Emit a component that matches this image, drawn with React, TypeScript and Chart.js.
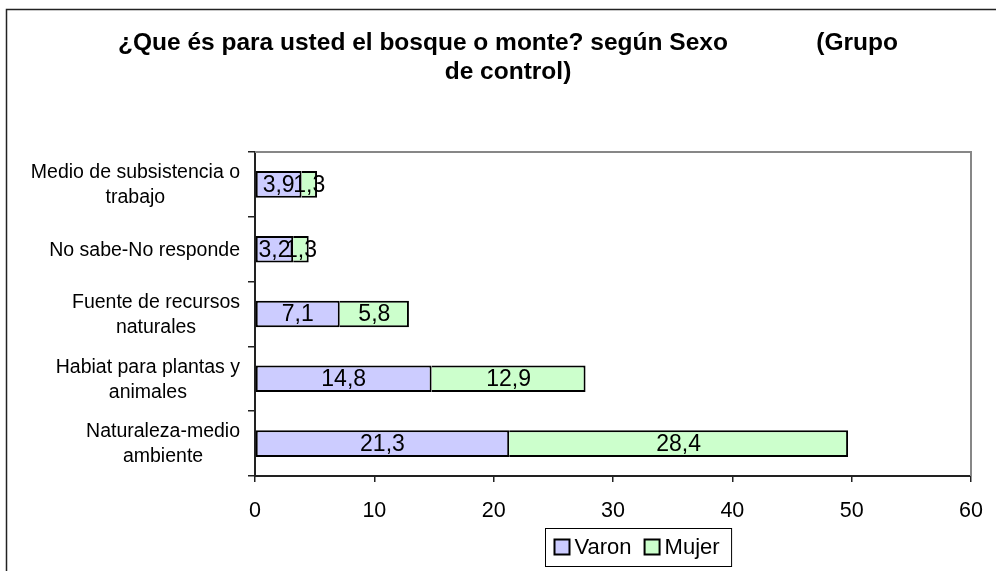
import React, { useEffect, useRef } from 'react';
import { Chart, registerables } from 'chart.js';

Chart.register(...registerables);

const FONT = "'Liberation Sans', Arial, Helvetica, sans-serif";

const categories: string[][] = [
  ['Medio de subsistencia o', 'trabajo'],
  ['No sabe-No responde'],
  ['Fuente de recursos', 'naturales'],
  ['Habiat para plantas y', 'animales'],
  ['Naturaleza-medio', 'ambiente'],
];
const varonValues = [3.9, 3.2, 7.1, 14.8, 21.3];
const mujerValues = [1.3, 1.3, 5.8, 12.9, 28.4];
const seriesNames = ['Varon', 'Mujer'];
const seriesColors = ['#CCCCFF', '#CCFFCC'];
const titleLines = [
  '¿Que és para usted el bosque o monte? según Sexo             (Grupo',
  'de control)',
];
const xMin = 0;
const xMax = 60;
const xStep = 10;

const fmt = (v: number) => String(v).replace('.', ',');

const framePlugin = {
  id: 'frame',
  beforeDraw(chart: any) {
    const ctx = chart.ctx;
    ctx.save();
    ctx.fillStyle = '#ffffff';
    ctx.fillRect(0, 0, chart.width, chart.height);
    ctx.strokeStyle = '#222222';
    ctx.lineWidth = 1.5;
    ctx.beginPath();
    ctx.moveTo(6.5, chart.height);
    ctx.lineTo(6.5, 9.5);
    ctx.lineTo(chart.width, 9.5);
    ctx.stroke();
    ctx.restore();
  },
  beforeDatasetsDraw(chart: any) {
    const { ctx, chartArea } = chart;
    ctx.save();
    ctx.strokeStyle = '#878787';
    ctx.lineWidth = 2;
    ctx.beginPath();
    ctx.moveTo(chartArea.left, chartArea.top);
    ctx.lineTo(chartArea.right, chartArea.top);
    ctx.lineTo(chartArea.right, chartArea.bottom);
    ctx.stroke();
    ctx.restore();
  },
};

const labelsPlugin = {
  id: 'customLabels',
  afterDatasetsDraw(chart: any) {
    const ctx = chart.ctx;
    ctx.save();
    // value labels
    ctx.font = `23px ${FONT}`;
    ctx.fillStyle = '#000';
    ctx.textAlign = 'center';
    ctx.textBaseline = 'middle';
    chart.data.datasets.forEach((ds: any, di: number) => {
      const meta = chart.getDatasetMeta(di);
      meta.data.forEach((el: any, i: number) => {
        const { x, y, base } = el.getProps(['x', 'y', 'base'], true);
        ctx.fillText(fmt(ds.data[i]), (x + base) / 2, y + 1);
      });
    });
    // category labels (each wrapped label centred on its own widest line)
    const yScale = chart.scales.y;
    ctx.font = `19.5px ${FONT}`;
    const lh = 25;
    (chart.data.labels as string[][]).forEach((lines, i) => {
      const cy = yScale.getPixelForValue(i);
      const maxW = Math.max(...lines.map((l) => ctx.measureText(l).width));
      const cx = chart.chartArea.left - 15 - maxW / 2;
      lines.forEach((l, j) => {
        ctx.fillText(l, cx, cy + 1 + (j - (lines.length - 1) / 2) * lh);
      });
    });
    ctx.restore();
  },
  afterDraw(chart: any) {
    // legend box
    const ctx = chart.ctx;
    ctx.save();
    ctx.font = `22px ${FONT}`;
    const sw = 15;
    const gap = 5;
    const itemGap = 13;
    const padL = 9;
    const padR = 12;
    const items = chart.data.datasets.map((ds: any) => ({
      label: ds.label,
      color: ds.backgroundColor,
      w: ctx.measureText(ds.label).width,
    }));
    let total = padL + padR;
    items.forEach((it: any, i: number) => {
      total += sw + gap + it.w + (i > 0 ? itemGap : 0);
    });
    const cx = 638;
    const cy = 547;
    const h = 38;
    const left = Math.round(cx - total / 2) + 0.5;
    const top = Math.round(cy - h / 2) + 0.5;
    ctx.fillStyle = '#fff';
    ctx.fillRect(left, top, total, h);
    ctx.strokeStyle = '#000';
    ctx.lineWidth = 1;
    ctx.strokeRect(left, top, total, h);
    let x = left + padL;
    ctx.textBaseline = 'middle';
    ctx.textAlign = 'left';
    items.forEach((it: any, i: number) => {
      if (i > 0) x += itemGap;
      ctx.fillStyle = it.color;
      ctx.fillRect(x, cy - sw / 2, sw, sw);
      ctx.strokeStyle = '#000';
      ctx.lineWidth = 2;
      ctx.strokeRect(x, cy - sw / 2, sw, sw);
      x += sw + gap;
      ctx.fillStyle = '#000';
      ctx.fillText(it.label, x, cy + 1);
      x += it.w;
    });
    ctx.restore();
  },
};

export default function App() {
  const ref = useRef<HTMLCanvasElement | null>(null);
  useEffect(() => {
    if (!ref.current) return;
    const chart = new Chart(ref.current, {
      type: 'bar',
      data: {
        labels: categories as any,
        datasets: [
          {
            label: seriesNames[0],
            data: varonValues,
            backgroundColor: seriesColors[0],
            borderColor: '#000',
            borderWidth: 2,
            borderSkipped: false,
            barPercentage: 0.41,
            categoryPercentage: 1,
          },
          {
            label: seriesNames[1],
            data: mujerValues,
            backgroundColor: seriesColors[1],
            borderColor: '#000',
            borderWidth: 2,
            borderSkipped: 'start',
            barPercentage: 0.41,
            categoryPercentage: 1,
          },
        ],
      },
      options: {
        indexAxis: 'y',
        animation: false,
        responsive: false,
        devicePixelRatio: 1,
        layout: { padding: { top: 10, left: 45, right: 25, bottom: 0 } },
        plugins: {
          legend: { display: false },
          tooltip: { enabled: false },
          title: {
            display: true,
            text: titleLines,
            color: '#000',
            font: { family: FONT, size: 24.5, weight: 'bold', lineHeight: 28.5 / 24.5 },
            padding: { top: 19, bottom: 66 },
          },
        },
        scales: {
          x: {
            type: 'linear',
            stacked: true,
            min: xMin,
            max: xMax,
            ticks: {
              stepSize: xStep,
              color: '#000',
              font: { family: FONT, size: 21.5 },
              padding: 16,
              maxRotation: 0,
            },
            grid: {
              drawOnChartArea: false,
              drawTicks: true,
              tickLength: 6,
              color: '#222',
              lineWidth: 1.5,
            },
            border: { color: '#222', width: 2 },
            afterFit(scale: any) {
              scale.height = 95;
              scale.paddingLeft = 0;
              scale.paddingRight = 0;
            },
          },
          y: {
            type: 'category',
            stacked: true,
            offset: true,
            ticks: { display: false },
            grid: {
              offset: true,
              drawOnChartArea: false,
              drawTicks: true,
              tickLength: 7,
              color: '#222',
              lineWidth: 1.5,
            },
            border: { color: '#222', width: 2 },
            afterFit(scale: any) {
              scale.width = 210;
              scale.paddingTop = 0;
              scale.paddingBottom = 0;
            },
          },
        },
      },
      plugins: [framePlugin, labelsPlugin],
    } as any);
    return () => chart.destroy();
  }, []);
  return (
    <div style={{ position: 'absolute', left: 0, top: 0, width: 996, height: 571 }}>
      <canvas ref={ref} width={996} height={571} style={{ display: 'block' }} />
    </div>
  );
}
